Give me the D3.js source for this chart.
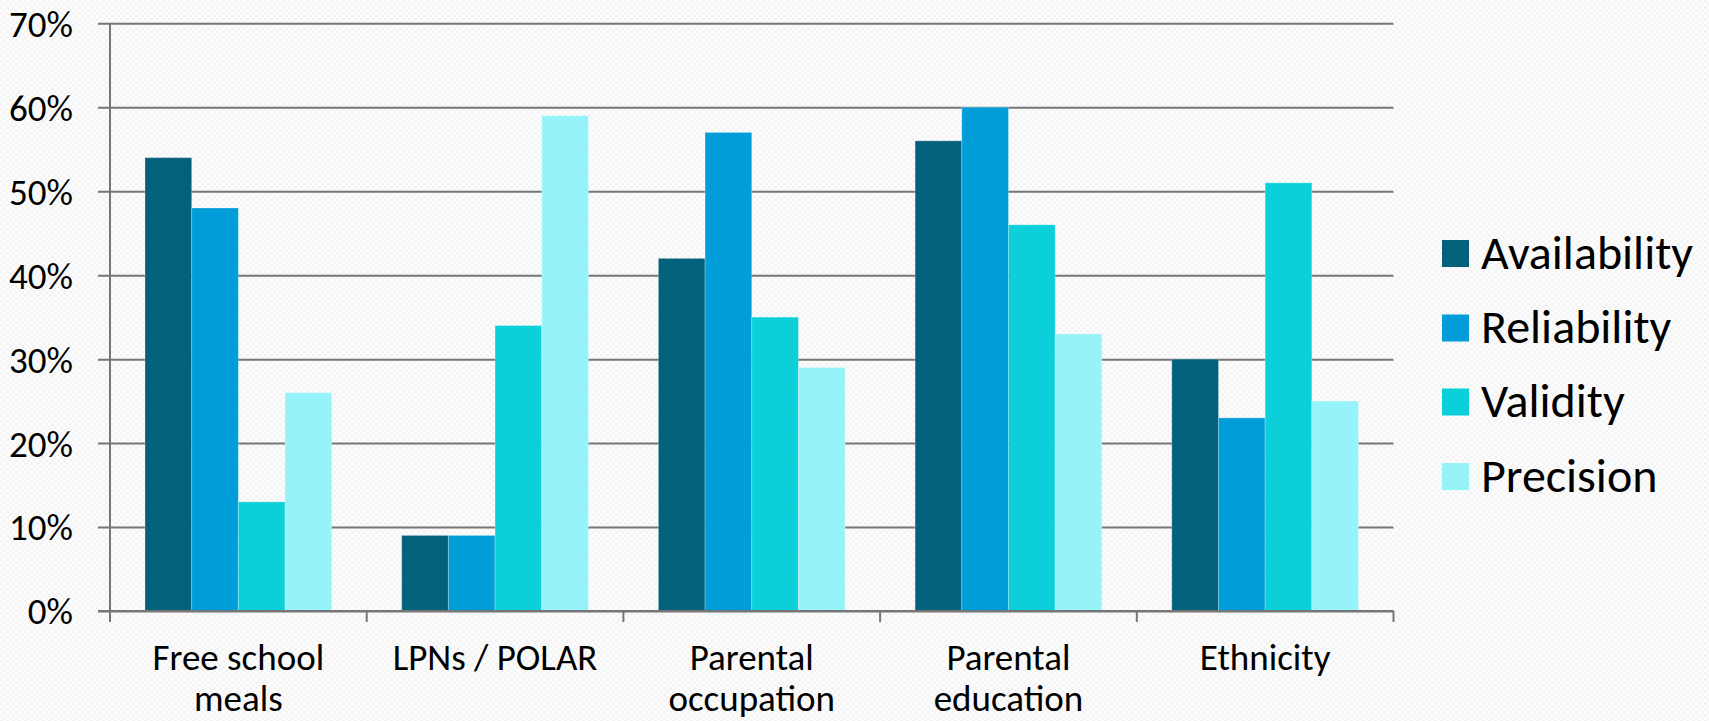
<!DOCTYPE html>
<html>
<head>
<meta charset="utf-8">
<script src="https://cdn.jsdelivr.net/npm/d3@7"></script>
<style>
  html, body { margin: 0; padding: 0; background: #ffffff; }
  svg { display: block; }
  text { font-family: Carlito, Calibri, Lato, "Open Sans", sans-serif; fill: #000; }
</style>
</head>
<body>
<svg id="chart" width="1709" height="721"></svg>
<script>
// Categories, series and values (percent)
const categories = [
  ["Free school", "meals"],
  ["LPNs / POLAR"],
  ["Parental", "occupation"],
  ["Parental", "education"],
  ["Ethnicity"]
];
const seriesNames = ["Availability", "Reliability", "Validity", "Precision"];
const availability = [54, 9, 42, 56, 30];
const reliability  = [48, 9, 57, 60, 23];
const validity     = [13, 34, 35, 46, 51];
const precision    = [26, 59, 29, 33, 25];
const yTicks = [0, 10, 20, 30, 40, 50, 60, 70];

const seriesValues = [availability, reliability, validity, precision];
const colors = ["#04617B", "#009DD9", "#0BD0D9", "#95F3F9"];

const svg = d3.select("#chart");

// subtle paper texture behind the chart
const defs = svg.append("defs");
const pat = defs.append("pattern")
  .attr("id", "paper").attr("width", 6).attr("height", 6)
  .attr("patternUnits", "userSpaceOnUse");
pat.append("rect").attr("width", 6).attr("height", 6).attr("fill", "#fdfdfd");
pat.append("rect").attr("width", 3).attr("height", 3).attr("fill", "#f4f4f4");
pat.append("rect").attr("x", 3).attr("y", 3).attr("width", 3).attr("height", 3).attr("fill", "#f4f4f4");
svg.append("rect").attr("width", 1709).attr("height", 721).attr("fill", "url(#paper)");

const plotLeft = 110, plotRight = 1393.5, plotTop = 23.3, plotBottom = 611;
const lineColor = "#767676";
const axisFont = "37px";

const x0 = d3.scaleBand()
  .domain(d3.range(categories.length))
  .range([plotLeft, plotRight])
  .padding(0);

const barW = x0.bandwidth() / 5.5;
const x1 = d3.scaleBand()
  .domain(seriesNames)
  .range([0.75 * barW, x0.bandwidth() - 0.75 * barW])
  .padding(0);

const y = d3.scaleLinear().domain([0, 70]).range([plotBottom, plotTop]);

// horizontal gridlines with left ticks and percent labels
const yAxis = svg.append("g")
  .attr("transform", `translate(${plotLeft},0)`)
  .call(d3.axisLeft(y).tickValues(yTicks).tickFormat(d => d + "%").tickSizeOuter(0));
yAxis.select(".domain").remove();
yAxis.selectAll(".tick line")
  .attr("x1", -12).attr("x2", plotRight - plotLeft)
  .attr("stroke", lineColor).attr("stroke-width", 2);
yAxis.selectAll(".tick text")
  .attr("x", -37).attr("dy", "0.35em")
  .style("font-size", axisFont).style("fill", "#000");

// bars
const groups = svg.append("g").selectAll("g")
  .data(categories)
  .join("g")
  .attr("transform", (d, i) => `translate(${x0(i)},0)`);

groups.selectAll("rect")
  .data((d, i) => seriesNames.map((s, k) => ({ s, k, v: seriesValues[k][i] })))
  .join("rect")
  .attr("x", d => x1(d.s))
  .attr("width", x1.bandwidth())
  .attr("y", d => y(d.v))
  .attr("height", d => y(0) - y(d.v))
  .attr("fill", d => colors[d.k])
  .attr("stroke", "rgba(255,255,255,0.25)")
  .attr("stroke-width", 1);

// vertical axis line
svg.append("line")
  .attr("x1", plotLeft).attr("x2", plotLeft)
  .attr("y1", plotTop).attr("y2", plotBottom)
  .attr("stroke", lineColor).attr("stroke-width", 2);

// category axis with boundary ticks
const xAxis = svg.append("g").attr("transform", `translate(0,${plotBottom})`);
xAxis.append("line")
  .attr("x1", plotLeft - 12).attr("x2", plotRight)
  .attr("stroke", lineColor).attr("stroke-width", 2);
xAxis.selectAll("line.tk")
  .data(d3.range(categories.length + 1))
  .join("line").attr("class", "tk")
  .attr("x1", i => i < categories.length ? x0(i) : plotRight)
  .attr("x2", i => i < categories.length ? x0(i) : plotRight)
  .attr("y1", 0).attr("y2", 11)
  .attr("stroke", lineColor).attr("stroke-width", 2);

const labels = xAxis.selectAll("text.cat")
  .data(categories)
  .join("text").attr("class", "cat")
  .attr("text-anchor", "middle")
  .style("font-size", axisFont)
  .attr("transform", (d, i) => `translate(${x0(i) + x0.bandwidth() / 2},59)`);
labels.selectAll("tspan")
  .data(d => d)
  .join("tspan")
  .attr("x", 0)
  .attr("y", (d, j) => j * 41)
  .text(d => d);

// legend
const legend = svg.append("g").attr("transform", "translate(1442,0)");
const rowY = [253.5, 328, 402, 476.5];
const items = legend.selectAll("g")
  .data(seriesNames)
  .join("g")
  .attr("transform", (d, i) => `translate(0,${rowY[i]})`);
items.append("rect")
  .attr("x", 0).attr("y", -13.5)
  .attr("width", 27).attr("height", 27)
  .attr("fill", (d, i) => colors[i]);
items.append("text")
  .attr("x", 39).attr("y", 15)
  .style("font-size", "48px")
  .text(d => d);
</script>
</body>
</html>
